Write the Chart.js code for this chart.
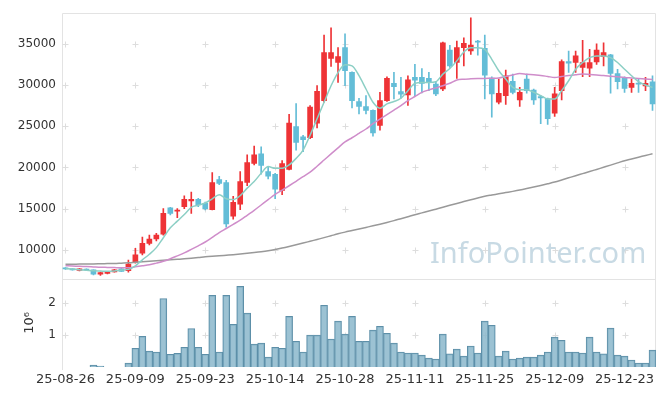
<!DOCTYPE html>
<html><head><meta charset="utf-8">
<script src="https://cdn.jsdelivr.net/npm/chart.js@4.4.1/dist/chart.umd.min.js"></script>
<style>
html,body{margin:0;padding:0;background:#fff;}
#wrap{position:relative;width:665px;height:396px;}
#wm{position:absolute;left:430px;top:237px;font-family:'Noto Sans';font-size:29px;color:#c8dae4;pointer-events:none;white-space:nowrap;line-height:1;}
</style></head><body>
<div id="wrap"><canvas id="c" width="665" height="396"></canvas><div id="wm">InfoPointer.com</div></div>
<script>
const dates = ['25-08-26','25-08-27','25-08-28','25-08-29','25-09-01','25-09-02','25-09-03','25-09-04','25-09-05','25-09-08',
'25-09-09','25-09-10','25-09-11','25-09-12','25-09-15','25-09-16','25-09-17','25-09-18','25-09-19','25-09-22',
'25-09-23','25-09-24','25-09-25','25-09-26','25-09-29','25-09-30','25-10-01','25-10-02','25-10-10','25-10-13',
'25-10-14','25-10-15','25-10-16','25-10-17','25-10-20','25-10-21','25-10-22','25-10-23','25-10-24','25-10-27',
'25-10-28','25-10-29','25-10-30','25-10-31','25-11-03','25-11-04','25-11-05','25-11-06','25-11-07','25-11-10',
'25-11-11','25-11-12','25-11-13','25-11-14','25-11-17','25-11-18','25-11-19','25-11-20','25-11-21','25-11-24',
'25-11-25','25-11-26','25-11-27','25-11-28','25-12-01','25-12-02','25-12-03','25-12-04','25-12-05','25-12-08',
'25-12-09','25-12-10','25-12-11','25-12-12','25-12-15','25-12-16','25-12-17','25-12-18','25-12-19','25-12-22',
'25-12-23','25-12-24','25-12-26','25-12-29','25-12-30'];

const xTickDates = ['25-08-26','25-09-09','25-09-23','25-10-14','25-10-28','25-11-11','25-11-25','25-12-09','25-12-23'];
const priceTicks = [10000,15000,20000,25000,30000,35000];
const volTicks = [1,2];

const open = [7800,7700,7520,7650,7580,7050,7150,7320,7700,7480,
8480,9600,10800,11320,11900,15100,14700,15250,15930,16130,
15650,14890,18540,18170,14090,15560,18170,20490,21660,19500,
19170,17210,19770,24940,23700,23620,25380,28110,33230,32720,
34520,31520,27990,27390,26910,25110,28110,30190,29190,28790,
30910,30910,30790,30110,29510,34240,32720,34520,34120,35320,
34440,30830,27910,28710,30430,28190,30710,29390,28590,28310,
26590,29310,32840,32720,32120,32040,32800,33440,33640,31390,
30790,29710,30190,29870,30390];
const high = [7850,7750,7750,7700,7600,7320,7420,7650,7780,8760,
10200,11560,11800,12000,15000,15150,15000,16570,17000,16250,
15800,19370,18930,18450,16490,19500,21540,22580,22500,20060,
19300,20820,26430,27750,23900,27500,29920,36040,36920,34520,
36200,31600,28390,28710,27000,29110,30990,31520,30910,31120,
32510,32000,31520,30400,35200,34800,35320,35720,38130,35400,
36040,31000,30710,31790,31310,29710,31310,29500,28700,28400,
29710,33040,34120,34120,35400,34320,35000,35120,33700,31910,
31000,30710,30700,30910,31120];
const low = [7650,7550,7450,7500,6980,6910,7100,7300,7380,7300,
8400,9400,10600,11100,11800,14250,13900,15000,14420,15250,
14850,14850,17900,12770,13730,14890,17780,20300,19170,18620,
16210,16700,19700,22100,21900,23500,24780,27900,32240,30310,
29920,27220,26500,26500,23790,24510,28000,28310,28390,27510,
28710,29030,29310,28710,29310,32120,30790,32320,33710,33600,
28310,26110,27710,27630,28900,27390,29000,27630,25300,25230,
26190,28190,31520,31520,31000,31000,32500,32320,28990,29510,
29110,29110,29100,29310,26910];
const close = [7700,7580,7700,7550,7050,7250,7400,7600,7400,8280,
9400,10800,11320,11800,14450,14420,14780,16130,16130,15490,
15010,18170,18050,13160,15770,18290,20580,21540,20250,18930,
17370,20460,25380,23020,23380,27310,29230,33920,33920,33440,
31720,28110,27390,26910,24180,28110,30790,29790,28870,30630,
30590,30190,30390,28910,35120,32320,34520,35040,34840,35200,
31200,28910,28990,31120,29110,29110,29310,28190,28430,25900,
28910,32840,32640,33520,32720,32720,34240,33920,31390,30390,
29590,30190,30110,30190,27710];

const ma5 = [7750,7680,7600,7540,7480,7440,7400,7450,7560,7640,
8080,8800,9480,10280,11480,12680,13490,14290,15170,15410,
15690,16200,16690,16210,16100,16580,17490,18290,19290,20100,
19900,19900,20300,21100,22100,23900,25900,27900,29900,31500,
32440,32320,31120,29510,27910,27190,27710,27990,28390,29310,
30190,30310,30310,30400,31310,32000,32920,34000,34520,34520,
34320,33110,31720,30710,29710,29430,29430,29110,28710,28310,
28310,29310,30510,31910,32720,33320,33520,33520,33320,32720,
31910,31120,30400,29990,29710];
const ma20 = [8080,8050,8010,7980,7940,7900,7880,7860,7840,7840,
7960,8080,8200,8400,8620,8930,9280,9640,10060,10500,
10960,11520,12100,12600,13100,13600,14200,14800,15450,16100,
16730,17250,17780,18320,18880,19430,20150,20900,21650,22380,
23100,23600,24130,24660,25300,25850,26400,26950,27500,28100,
28600,29100,29400,29650,29900,30200,30600,30700,30740,30770,
30790,30820,30850,31030,31210,31390,31310,31230,31150,31030,
30910,31030,31150,31250,31330,31270,31210,31150,31070,30990,
30910,30850,30790,30730,30670];
const ma60 = [8260,8270,8280,8290,8300,8320,8340,8360,8400,8440,
8500,8560,8620,8680,8740,8800,8860,8920,8990,9070,
9160,9230,9290,9360,9430,9510,9600,9690,9790,9910,
10060,10230,10420,10620,10830,11050,11270,11490,11720,11950,
12160,12350,12540,12730,12920,13120,13330,13550,13790,14030,
14270,14490,14710,14940,15170,15410,15640,15860,16080,16300,
16510,16660,16800,16950,17100,17260,17440,17630,17820,18020,
18230,18480,18740,19000,19250,19500,19760,20020,20280,20550,
20820,21030,21240,21450,21660];

// volume in millions (axis unit 10^6)
const volume = [0,0,0,0,0.06,0.03,0,0,0,0.12,
0.59,0.96,0.50,0.47,2.15,0.40,0.43,0.62,1.21,0.62,
0.40,2.25,0.47,2.25,1.34,2.53,1.69,0.72,0.75,0.31,
0.62,0.59,1.59,0.81,0.47,1.0,1.0,1.94,0.88,1.44,
1.03,1.59,0.81,0.81,1.16,1.28,1.06,0.75,0.47,0.44,
0.44,0.375,0.28,0.25,1.03,0.41,0.56,0.34,0.66,0.44,
1.44,1.31,0.34,0.5,0.25,0.28,0.31,0.31,0.375,0.47,
0.94,0.84,0.47,0.47,0.44,0.94,0.47,0.41,1.22,0.375,
0.34,0.22,0.125,0.125,0.53];

const RED = '#ee3336', BLUE = '#63bdd7';
const candleColors = close.map((c,i) => c >= open[i] ? RED : BLUE);
const TXT = '#333333';
const FONT = {family:'DejaVu Sans', size:12};

const frame = {
  id:'frame',
  beforeDatasetsDraw(chart){
    const {ctx, chartArea:a, scales} = chart;
    const x = scales.x, y = scales.y, yv = scales.yv;
    ctx.save();
    ctx.lineWidth = 1;
    ctx.strokeStyle = '#e3e3e3';
    ctx.beginPath();
    const L = Math.round(a.left)+0.5, R = Math.round(a.right)-0.5;
    const T = Math.round(y.top)+0.5, B = Math.round(y.bottom)+0.5;
    ctx.moveTo(L, T); ctx.lineTo(R, T);
    ctx.moveTo(L, B); ctx.lineTo(R, B);
    ctx.moveTo(L, T); ctx.lineTo(L, yv.bottom+3);
    ctx.moveTo(R, T); ctx.lineTo(R, yv.bottom);
    ctx.stroke();
    ctx.strokeStyle = '#dddddd';
    ctx.beginPath();
    const cross = (px,py) => { ctx.moveTo(px-3,py); ctx.lineTo(px+3,py); ctx.moveTo(px,py-3); ctx.lineTo(px,py+3); };
    dates.forEach((d,i) => {
      if (!xTickDates.includes(d)) return;
      const px = Math.round(x.getPixelForValue(i))+0.5;
      priceTicks.forEach(v => cross(px, Math.round(y.getPixelForValue(v))+0.5));
      volTicks.forEach(v => cross(px, Math.round(yv.getPixelForValue(v))+0.5));
    });
    ctx.stroke();
    ctx.restore();
  }
};

new Chart(document.getElementById('c'), {
  type:'bar',
  data:{
    labels: dates,
    datasets:[
      {type:'line', label:'MA5', data:ma5, yAxisID:'y', borderColor:'#8ccfc5', borderWidth:1.5, pointRadius:0, cubicInterpolationMode:'monotone', order:0},
      {type:'line', label:'MA20', data:ma20, yAxisID:'y', borderColor:'#cf8dca', borderWidth:1.5, pointRadius:0, cubicInterpolationMode:'monotone', order:0},
      {type:'line', label:'MA60', data:ma60, yAxisID:'y', borderColor:'#999999', borderWidth:1.5, pointRadius:0, cubicInterpolationMode:'monotone', order:0},
      {label:'body', data: open.map((o,i) => [o, close[i]]), yAxisID:'y', backgroundColor:candleColors, barThickness:5, minBarLength:1, grouped:false, order:1},
      {label:'wick', data: low.map((l,i) => [l, high[i]]), yAxisID:'y', backgroundColor:candleColors, barThickness:1, grouped:false, order:2},
      {label:'volume', data: volume, yAxisID:'yv', backgroundColor:'rgba(139,183,203,0.85)', borderColor:'#5d8fa8', borderWidth:1, barPercentage:1, categoryPercentage:1, grouped:false, order:3}
    ]
  },
  options:{
    responsive:false, animation:false, events:[],
    layout:{padding:{top:10, right:9, left:0, bottom:0}},
    plugins:{legend:{display:false}, tooltip:{enabled:false}},
    scales:{
      x:{
        type:'category', position:'bottom', offset:true,
        grid:{display:false, drawTicks:false}, border:{display:false},
        ticks:{autoSkip:false, maxRotation:0, minRotation:0, padding:5, color:TXT, font:{family:'DejaVu Sans', size:13},
          callback(v, i){ const d = dates[i]; return xTickDates.includes(d) ? d : ''; }},
        afterFit(s){ s.height = 29; }
      },
      y:{
        type:'linear', position:'left', stack:'s', stackWeight:268, weight:1,
        min:6500, max:38700,
        grid:{display:false, drawTicks:false}, border:{display:false},
        afterBuildTicks(s){ s.ticks = priceTicks.map(v => ({value:v})); },
        ticks:{padding:6, color:TXT, font:FONT, callback:v => String(v)},
        afterFit(s){ s.width = 62; }
      },
      yv:{
        type:'linear', position:'left', stack:'s', stackWeight:89, weight:0,
        min:0, max:2.77,
        grid:{display:false, drawTicks:false}, border:{display:false},
        afterBuildTicks(s){ s.ticks = volTicks.map(v => ({value:v})); },
        ticks:{padding:6, color:TXT, font:FONT, callback:v => String(v)},
        title:{display:true, text:'10⁶', color:TXT, font:{family:'DejaVu Sans', size:13}, padding:{top:22, bottom:0}},
        afterFit(s){ s.width = 62; }
      }
    }
  },
  plugins:[frame]
});
</script>
</body></html>
